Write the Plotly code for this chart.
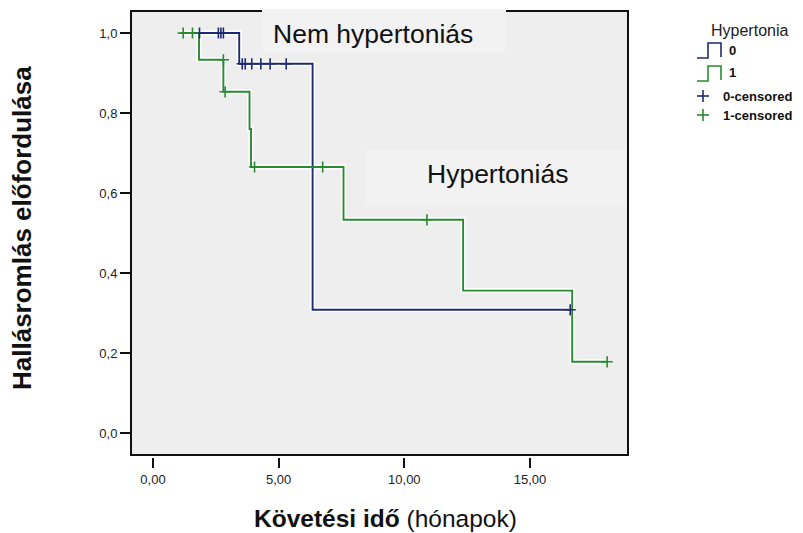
import plotly.graph_objects as go

# ---- data ----
grp0_time = [1.85, 3.43, 6.35, 16.6]
grp0_surv = [1.0, 0.923, 0.308, 0.308]
grp1_time = [1.08, 1.83, 2.8, 3.84, 3.9, 7.58, 12.34, 16.68, 18.07]
grp1_surv = [1.0, 0.933, 0.853, 0.76, 0.665, 0.533, 0.356, 0.178, 0.178]

cens0_time = [1.85, 2.6, 2.7, 2.8, 3.55, 3.67, 3.93, 4.29, 4.66, 5.3, 16.6]
cens0_surv = [1.0, 1.0, 1.0, 1.0, 0.923, 0.923, 0.923, 0.923, 0.923, 0.923, 0.308]
cens1_time = [1.2, 1.57, 2.8, 2.87, 4.04, 6.75, 10.9, 18.07]
cens1_surv = [1.0, 1.0, 0.933, 0.853, 0.665, 0.665, 0.533, 0.178]

x_ticks = [0, 5, 10, 15]
y_ticks = [0.0, 0.2, 0.4, 0.6, 0.8, 1.0]

BLUE = "#1E2B70"
GREEN = "#2A8A30"
FONT = "Arial, Liberation Sans, sans-serif"

OFF = 8  # page body margin
W, H = 803 - OFF, 533 - OFF
# page-pixel positions of the plotting region
PL, PR, PT, PB = 131, 628, 11, 457
L, R, T, B = PL - OFF, PR - OFF, PT - OFF, PB - OFF


def P(px, py):
    return (px - PL) / (PR - PL), (PB - py) / (PB - PT)


fig = go.Figure()

for t, s, c in [(grp0_time, grp0_surv, BLUE), (grp1_time, grp1_surv, GREEN)]:
    fig.add_trace(go.Scatter(x=t, y=s, mode="lines", line=dict(color="white", width=5, shape="hv"),
                             hoverinfo="skip", showlegend=False))
for t, s, c in [(grp0_time, grp0_surv, BLUE), (grp1_time, grp1_surv, GREEN)]:
    fig.add_trace(go.Scatter(x=t, y=s, mode="lines", line=dict(color=c, width=1.9, shape="hv"),
                             showlegend=False))
for t, s, c in [(cens0_time, cens0_surv, BLUE), (cens1_time, cens1_surv, GREEN)]:
    fig.add_trace(go.Scatter(x=t, y=s, mode="markers",
                             marker=dict(symbol="cross-thin", size=8, line=dict(color=c, width=1.6)),
                             showlegend=False))

shapes = []
annotations = []

# plot frame
shapes.append(dict(type="rect", xref="x domain", yref="y domain", x0=0, x1=1, y0=0, y1=1,
                   line=dict(color="#111111", width=2), layer="above"))
# light label box covering the frame top
x0, y0 = P(262, 9)
x1, y1 = P(506, 52)
shapes.append(dict(type="rect", xref="paper", yref="paper", x0=x0, x1=x1, y0=y1, y1=y0,
                   fillcolor="#F2F2F2", line=dict(width=0), layer="above"))
x0, y0 = P(365, 150)
x1, y1 = P(626, 205)
shapes.append(dict(type="rect", xref="paper", yref="paper", x0=x0, x1=x1, y0=y1, y1=y0,
                   fillcolor="#F2F2F2", line=dict(width=0), layer="below"))

# in-plot labels
for txt, px, py in [("Nem hypertoniás", 373, 34), ("Hypertoniás", 497, 174)]:
    ax, ay = P(px, py)
    annotations.append(dict(text=txt, x=ax, y=ay, xref="paper", yref="paper", showarrow=False,
                            xanchor="center", yanchor="middle",
                            font=dict(family=FONT, size=26.5, color="#111111")))

# axis titles
ax, ay = P(22, 228)
annotations.append(dict(text="<b>Hallásromlás előfordulása</b>", x=ax, y=ay, xref="paper", yref="paper",
                        showarrow=False, textangle=-90, xanchor="center", yanchor="middle",
                        font=dict(family=FONT, size=26, color="#111111")))
ax, ay = P(385, 518)
annotations.append(dict(text="<b>Követési idő</b> (hónapok)", x=ax, y=ay, xref="paper", yref="paper",
                        showarrow=False, xanchor="center", yanchor="middle",
                        font=dict(family=FONT, size=24.5, color="#111111")))

# manual legend
ax, ay = P(709, 30)
annotations.append(dict(text="Hypertonia", x=ax, y=ay, xref="paper", yref="paper", showarrow=False,
                        xanchor="left", yanchor="middle", font=dict(family=FONT, size=16, color="#222222")))
for i, (lab, col) in enumerate([("0", BLUE), ("1", GREEN)]):
    dy = 23 * i
    pts = [(697, 58 + dy), (708, 58 + dy), (708, 43 + dy), (721, 43 + dy), (721, 57 + dy)]
    path = ""
    for j, (px, py) in enumerate(pts):
        qx, qy = P(px, py)
        path += ("M" if j == 0 else "L") + f"{qx},{qy} "
    shapes.append(dict(type="path", xref="paper", yref="paper", path=path.strip(),
                       line=dict(color=col, width=1.6)))
    ax, ay = P(727, 50 + dy)
    annotations.append(dict(text=f"<b>{lab}</b>", x=ax, y=ay, xref="paper", yref="paper", showarrow=False,
                            xanchor="left", yanchor="middle", font=dict(family=FONT, size=13, color="#111111")))
for i, (lab, col) in enumerate([("0-censored", BLUE), ("1-censored", GREEN)]):
    cy = 96 + 19 * i
    hx0, hy = P(697, cy)
    hx1, _ = P(709, cy)
    vx, vy0 = P(703, cy - 6)
    _, vy1 = P(703, cy + 6)
    shapes.append(dict(type="line", xref="paper", yref="paper", x0=hx0, x1=hx1, y0=hy, y1=hy,
                       line=dict(color=col, width=1.6)))
    shapes.append(dict(type="line", xref="paper", yref="paper", x0=vx, x1=vx, y0=vy0, y1=vy1,
                       line=dict(color=col, width=1.6)))
    ax, ay = P(721, cy)
    annotations.append(dict(text=f"<b>{lab}</b>", x=ax, y=ay, xref="paper", yref="paper", showarrow=False,
                            xanchor="left", yanchor="middle", font=dict(family=FONT, size=13, color="#111111")))

dom0 = (PB - 455) / (PB - PT)

fig.update_layout(
    width=W, height=H,
    margin=dict(l=L, r=W - R, t=T, b=H - B, pad=0),
    paper_bgcolor="white",
    plot_bgcolor="#EEEEEE",
    separators=",.",
    showlegend=False,
    shapes=shapes,
    annotations=annotations,
    xaxis=dict(range=[-0.876, 18.9], tickvals=x_ticks, tickformat=".2f", anchor="free", position=0,
               showgrid=False, zeroline=False, showline=False, ticks="outside", ticklen=10,
               tickwidth=2, tickcolor="#111111",
               tickfont=dict(family=FONT, size=13, color="#222222")),
    yaxis=dict(range=[-0.055, 1.055], tickvals=y_ticks, tickformat=".1f", domain=[dom0, 1],
               showgrid=False, zeroline=False, showline=False, ticks="outside", ticklen=10,
               tickwidth=2, tickcolor="#111111",
               tickfont=dict(family=FONT, size=13, color="#222222")),
)

fig.write_html("out.html")
